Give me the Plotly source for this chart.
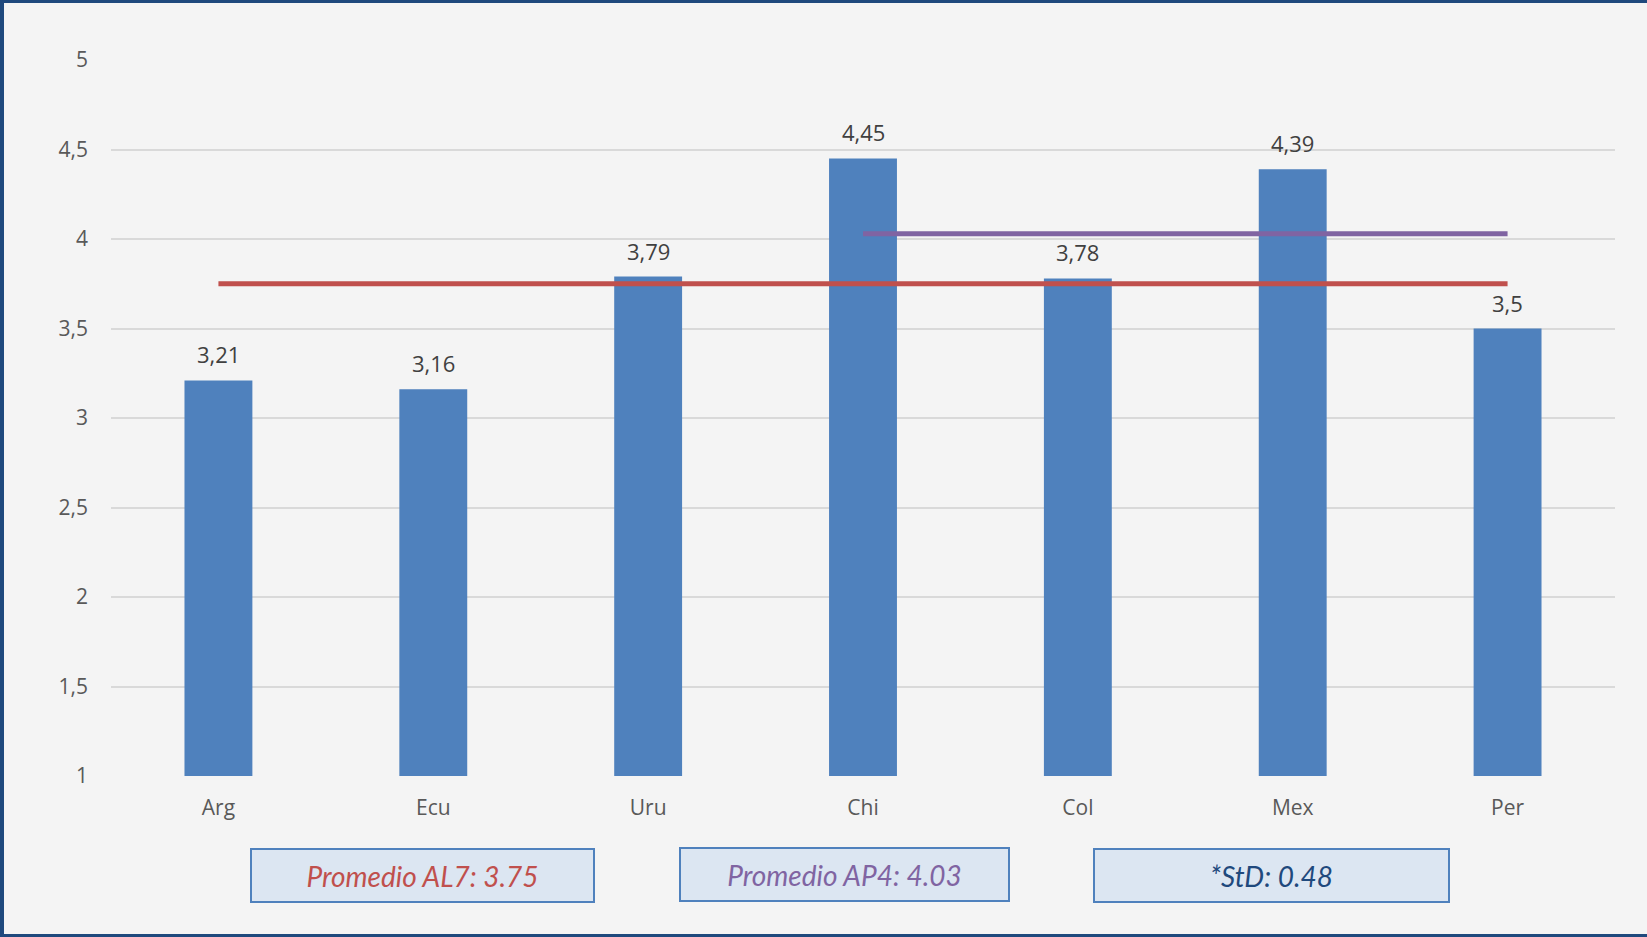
import plotly.graph_objects as go

countries = ["Arg", "Ecu", "Uru", "Chi", "Col", "Mex", "Per"]
scores = [3.21, 3.16, 3.79, 4.45, 3.78, 4.39, 3.5]
avg_al7 = 3.75
avg_ap4 = 4.03
ap4_countries = ["Chi", "Col", "Mex", "Per"]
std_dev = 0.48
y_ticks = [1, 1.5, 2, 2.5, 3, 3.5, 4, 4.5, 5]

BAR = "#4F81BD"
RED = "#C0504D"
PURPLE = "#8064A2"
NAVY = "#1F497D"
BG = "#F4F4F4"

W, H = 1647, 937
L, R, T, B = 111, 32, 60, 161
PW, PH = W - L - R, H - T - B

def px(x):
    return (x - L) / PW

def py(y):
    return (H - B - y) / PH

fig = go.Figure()
fig.add_trace(go.Bar(x=countries, y=scores, marker=dict(color=BAR, line=dict(width=0)),
                     width=0.316, showlegend=False, hoverinfo="x+y"))
fig.add_trace(go.Scatter(x=countries, y=[avg_al7] * len(countries), mode="lines",
                         line=dict(color=RED, width=5), showlegend=False))
fig.add_trace(go.Scatter(x=ap4_countries, y=[avg_ap4] * len(ap4_countries), mode="lines",
                         line=dict(color=PURPLE, width=5), showlegend=False))

annotations = []
for c, v in zip(countries, scores):
    annotations.append(dict(x=c, y=v, xref="x", yref="y", text=f"{v}".replace(".", ","),
                            showarrow=False, yanchor="middle", yshift=26,
                            font=dict(family="Open Sans", size=22, color="#404040")))

boxes = [
    ((250, 595), (848, 903), f"Promedio AL7: {avg_al7:.2f}", RED),
    ((679, 1010), (847, 902), f"Promedio AP4: {avg_ap4:.2f}", PURPLE),
    ((1093, 1450), (848, 903), f"*StD: {std_dev:.2f}", NAVY),
]
for (x0, x1), (y0, y1), txt, col in boxes:
    annotations.append(dict(xref="paper", yref="paper", x=px((x0 + x1) / 2), y=py((y0 + y1) / 2),
                            xanchor="center", yanchor="middle", showarrow=False,
                            text=f"<i>{txt}</i>", width=x1 - x0 - 4, height=y1 - y0 - 4,
                            borderpad=0, borderwidth=2, bordercolor=BAR, bgcolor="#DCE6F2",
                            font=dict(family="Lato", size=28, color=col)))

border = dict(xref="paper", yref="paper", type="line", line=dict(color=NAVY), layer="above")
shapes = [
    dict(border, x0=px(2), x1=px(2), y0=py(0), y1=py(H), line=dict(color=NAVY, width=4)),
    dict(border, x0=px(0), x1=px(W), y0=py(1.5), y1=py(1.5), line=dict(color=NAVY, width=3)),
    dict(border, x0=px(0), x1=px(W), y0=py(H - 1.5), y1=py(H - 1.5), line=dict(color=NAVY, width=3)),
]

fig.update_layout(
    width=W, height=H,
    margin=dict(l=L, r=R, t=T, b=B),
    paper_bgcolor=BG, plot_bgcolor=BG,
    separators=", ",
    annotations=annotations,
    shapes=shapes,
    font=dict(family="Open Sans", size=21, color="#595959"),
    xaxis=dict(showgrid=False, zeroline=False, showline=False, ticks="",
               ticklabelstandoff=17, tickfont=dict(size=21, color="#595959")),
    yaxis=dict(range=[1, 5], tickvals=y_ticks, showgrid=True, gridcolor="#D9D9D9", gridwidth=2,
               zeroline=False, showline=False, ticks="", ticklabelstandoff=22,
               tickfont=dict(size=21, color="#595959")),
    bargap=0.684,
)

fig.write_html("out.html", config={"displayModeBar": False},
               post_script="document.body.style.margin='0';document.body.style.padding='0';")
